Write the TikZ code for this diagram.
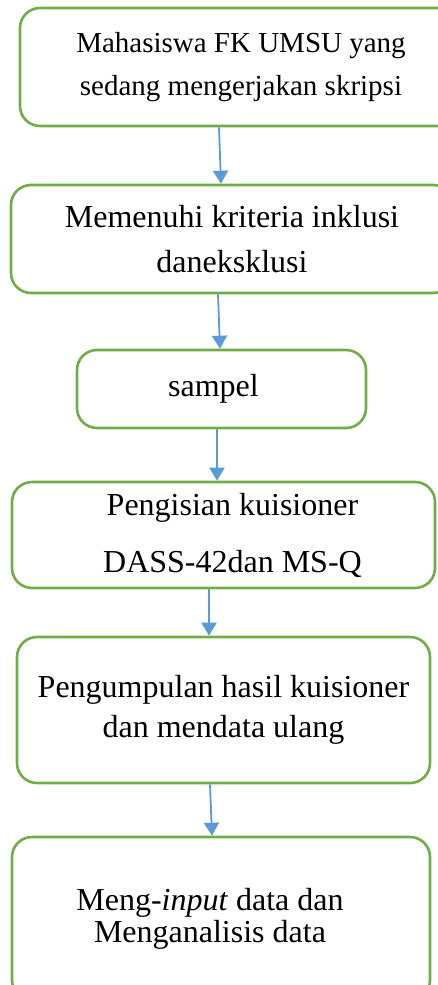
\documentclass[tikz,border=0pt]{standalone}
\usepackage{fontspec}
\setmainfont{Liberation Serif}
\usetikzlibrary{arrows.meta}

\definecolor{boxgreen}{HTML}{70AD47}
\definecolor{arrowblue}{HTML}{5B9BD5}

\tikzstyle{stage}=[draw=boxgreen, line width=2.6pt, rounded corners=20pt, align=center, inner sep=0pt]
\tikzstyle{flow}=[draw=arrowblue, line width=1.8pt, -{Triangle[width=15pt,length=13pt]}]

\begin{document}
\begin{tikzpicture}[x=1pt, y=-1pt]
      \useasboundingbox (0,0) rectangle (438,985);
      \clip (0,0) rectangle (438,985);

      \node[stage, minimum width=442pt, minimum height=118pt,
            font=\fontsize{29}{43}\selectfont] (s1) at (241, 67)
            {Mahasiswa FK UMSU yang\\sedang mengerjakan skripsi};
      \node[stage, minimum width=442pt, minimum height=108pt,
            font=\fontsize{32}{45}\selectfont] (s2) at (232, 239)
            {Memenuhi kriteria inklusi\\daneksklusi};
      \node[stage, minimum width=289pt, minimum height=78pt,
            font=\fontsize{32}{45}\selectfont] (s3) at (221.5, 389)
            {sampel\hspace*{16pt}};
      \node[stage, minimum width=423pt, minimum height=106pt,
            font=\fontsize{32}{57}\selectfont] (s4) at (223.5, 535)
            {\hspace*{18pt}Pengisian kuisioner\\\hspace*{18pt}DASS-42dan MS-Q};
      \node[stage, minimum width=413pt, minimum height=146pt,
            font=\fontsize{32}{40}\selectfont] (s5) at (223.5, 710)
            {Pengumpulan hasil kuisioner\\dan mendata ulang};
      \node[stage, minimum width=418pt, minimum height=163pt,
            font=\fontsize{32}{32}\selectfont] (s6) at (221, 918.5)
            {Meng-\textit{input} data dan\hspace*{22pt}\\Menganalisis data\hspace*{22pt}};

      \draw[flow] ([xshift=-22pt]s1.south) -- ([xshift=-11pt]s2.north);
      \draw[flow] ([xshift=-14pt]s2.south) -- ([xshift=-1.5pt]s3.north);
      \draw[flow] ([xshift=-4.5pt]s3.south) -- ([xshift=-6.5pt]s4.north);
      \draw[flow] ([xshift=-14.5pt]s4.south) -- ([xshift=-14.5pt]s5.north);
      \draw[flow] ([xshift=-13.5pt]s5.south) -- ([xshift=-9pt]s6.north);
\end{tikzpicture}
\end{document}
